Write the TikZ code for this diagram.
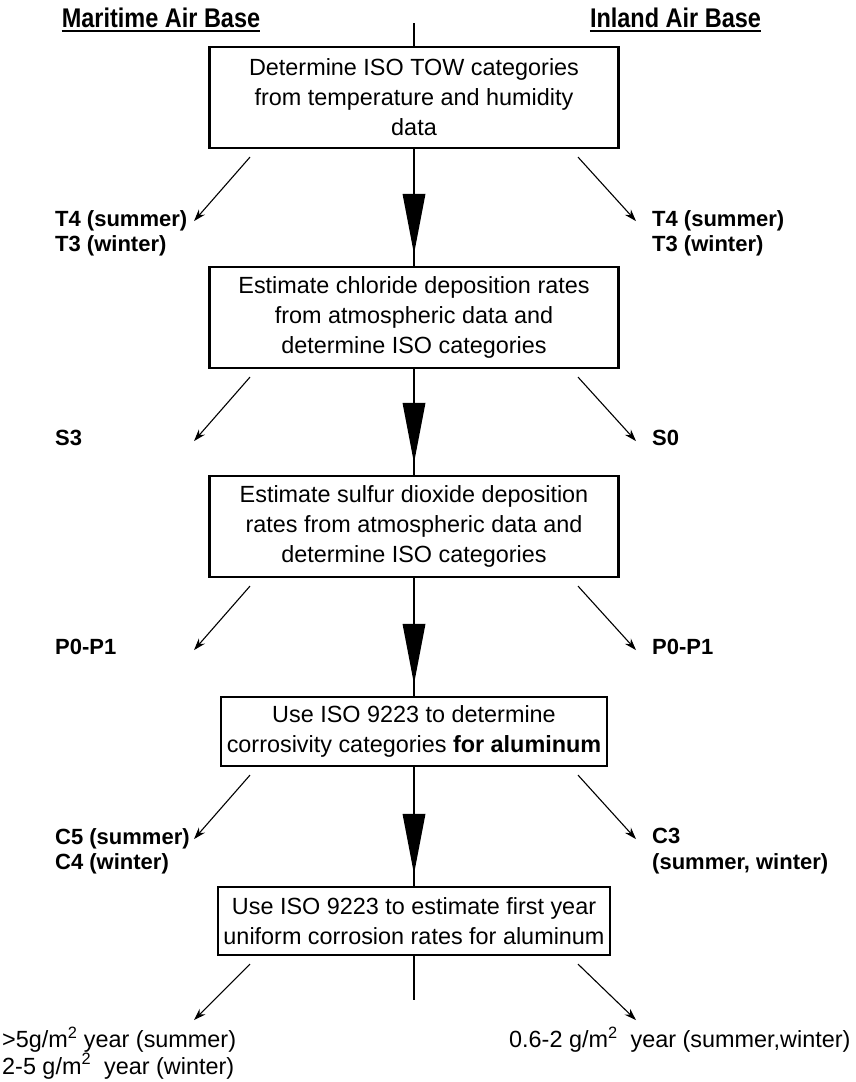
\documentclass[tikz,border=0pt]{standalone}
\usepackage{fontspec}
\setmainfont{Liberation Sans}
\newfontfamily\hdrfont[FakeStretch=0.87]{Liberation Sans}
\usetikzlibrary{arrows.meta}
\begin{document}
\begin{tikzpicture}[x=1pt,y=-1pt,
  box/.style={draw,line width=2.2pt,align=center,inner sep=0pt,
    font=\fontsize{23.4}{30}\selectfont},
  hdr/.style={font=\hdrfont\bfseries\fontsize{27}{30}\selectfont,inner sep=0pt,anchor=base},
  lbl/.style={font=\bfseries\fontsize{22}{25.5}\selectfont,inner sep=0pt,align=left},
  blbl/.style={font=\fontsize{23.4}{25}\selectfont,inner sep=0pt,align=left},
  spine/.style={line width=2pt},
  bighead/.style={fill=black},
  sarrow/.style={line width=1.1pt,-{Stealth[length=12pt,width=8pt]}}]
\useasboundingbox (0,0) rectangle (856,1082);
% headers
\node[hdr] (hm) at (161,27) {Maritime Air Base};
\node[hdr] (hi) at (675.5,27) {Inland Air Base};
\draw[line width=1.8pt] ([yshift=-4pt]hm.base west) -- ([yshift=-4pt]hm.base east);
\draw[line width=1.8pt] ([yshift=-4pt]hi.base west) -- ([yshift=-4pt]hi.base east);
% boxes
\node[box,minimum width=409pt,minimum height=101pt] (b1) at (414,97.5)
  {Determine ISO TOW categories\\from temperature and humidity\\data};
\node[box,minimum width=409pt,minimum height=101pt] (b2) at (414,317.5)
  {Estimate chloride deposition rates\\from atmospheric data and\\determine ISO categories};
\node[box,minimum width=409pt,minimum height=101pt] (b3) at (414,526.5)
  {Estimate sulfur dioxide deposition\\rates from atmospheric data and\\determine ISO categories};
\node[box,minimum width=386pt,minimum height=69pt] (b4) at (414,731.5)
  {Use ISO 9223 to determine\\corrosivity categories \textbf{for aluminum}};
\node[box,minimum width=392pt,minimum height=68pt] (b5) at (414,921)
  {Use ISO 9223 to estimate first year\\uniform corrosion rates for aluminum};
% spine
\coordinate (top) at (414,23);
\coordinate (bot) at (414,1000);
\draw[spine] (top) -- (b1.north);
\draw[spine] (b1.south) -- (b2.north);
\draw[spine] (b2.south) -- (b3.north);
\draw[spine] (b3.south) -- (b4.north);
\draw[spine] (b4.south) -- (b5.north);
\draw[spine] (b5.south) -- (bot);
\foreach \b in {b2,b3,b4,b5}{
  \fill[bighead] ([shift={(-11.5,-72)}]\b.north) -- ([shift={(11.5,-72)}]\b.north)
     -- ([shift={(0,-12)}]\b.north) -- cycle;
}
% side arrows and labels
\foreach \b/\n in {b1/1,b2/2,b3/3,b4/4,b5/5}{
  \coordinate (sl\n) at ([shift={(-164,8)}]\b.south);
  \coordinate (sr\n) at ([shift={(164,8)}]\b.south);
}
\coordinate (tl1) at ([shift={(-56,64)}]sl1); \coordinate (tr1) at ([shift={(58,64)}]sr1);
\coordinate (tl2) at ([shift={(-56,64)}]sl2); \coordinate (tr2) at ([shift={(58,64)}]sr2);
\coordinate (tl3) at ([shift={(-56,64)}]sl3); \coordinate (tr3) at ([shift={(58,64)}]sr3);
\coordinate (tl4) at ([shift={(-56,64)}]sl4); \coordinate (tr4) at ([shift={(58,64)}]sr4);
\coordinate (tl5) at ([shift={(-56,56)}]sl5); \coordinate (tr5) at ([shift={(58,56)}]sr5);
\foreach \n in {1,...,5}{
  \draw[sarrow] (sl\n) -- (tl\n);
  \draw[sarrow] (sr\n) -- (tr\n);
}
\node[lbl,anchor=north west,yshift=11pt] (l1) at (55 ,0 |- tl1) {T4 (summer)\\T3 (winter)};
\node[lbl,anchor=north west,yshift=11pt] (r1) at (652,0 |- tr1) {T4 (summer)\\T3 (winter)};
\node[lbl,anchor=west,yshift=3pt] (l2) at (55 ,0 |- tl2) {S3};
\node[lbl,anchor=west,yshift=3pt] (r2) at (652,0 |- tr2) {S0};
\node[lbl,anchor=west,yshift=3pt] (l3) at (55 ,0 |- tl3) {P0-P1};
\node[lbl,anchor=west,yshift=3pt] (r3) at (652,0 |- tr3) {P0-P1};
\node[lbl,anchor=north west,yshift=11pt] (l4) at (55 ,0 |- tl4) {C5 (summer)\\C4 (winter)};
\node[lbl,anchor=north west,yshift=11pt] (r4) at (652,0 |- tr4) {C3\\(summer, winter)};
\node[blbl,anchor=north west] (l5) at (2,1027) {>5g/m\textsuperscript{2} year (summer)\\2-5 g/m\textsuperscript{2}\ \ year (winter)};
\node[blbl,anchor=north west] (r5) at (509,1027) {0.6-2 g/m\textsuperscript{2}\ \ year (summer,winter)};
\end{tikzpicture}
\end{document}
